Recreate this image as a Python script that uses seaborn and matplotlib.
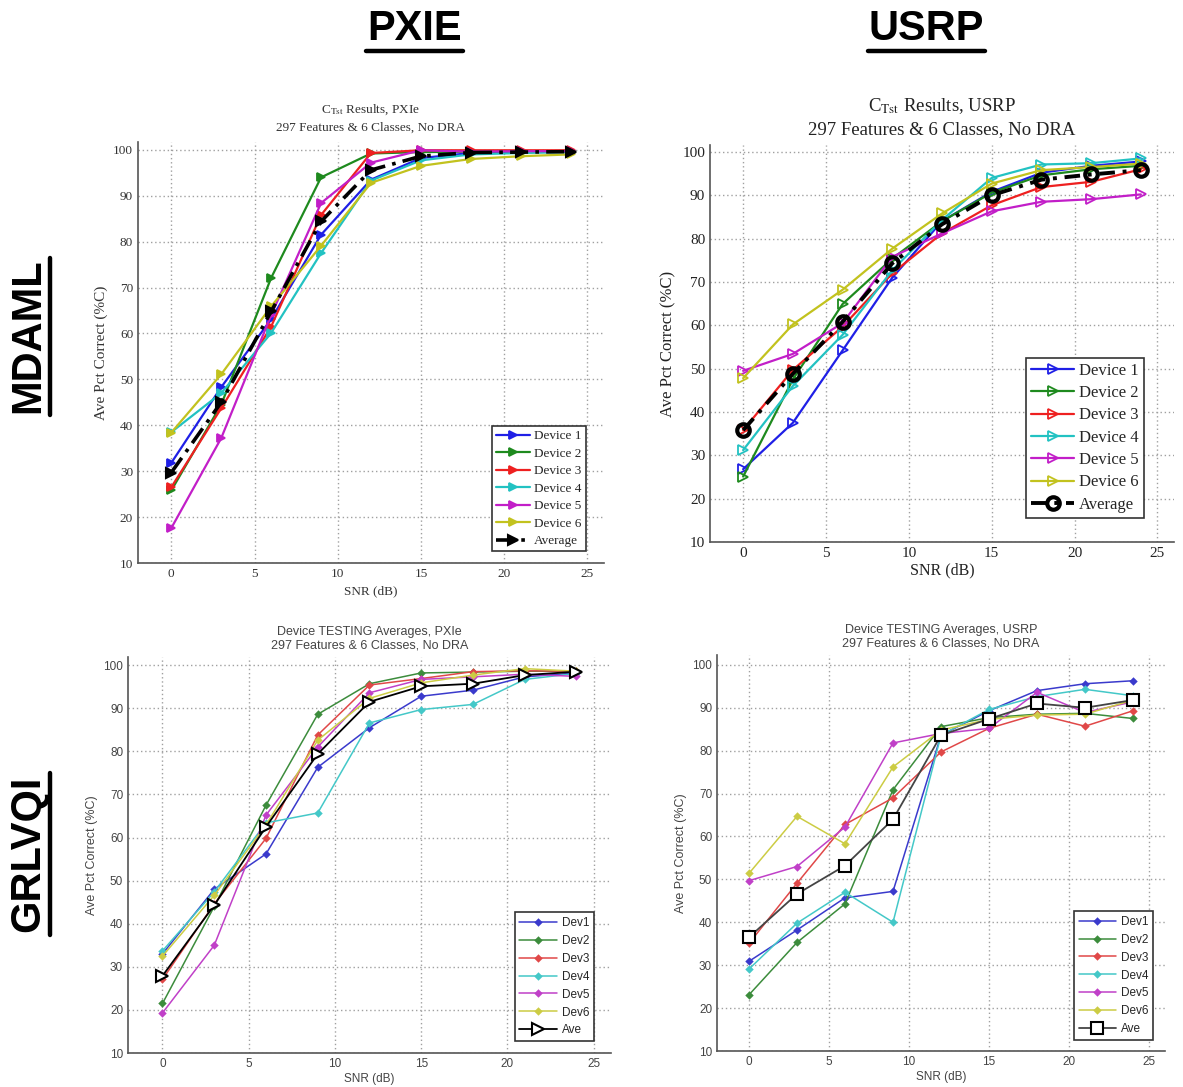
import numpy as np
import pandas as pd
import matplotlib
matplotlib.use("Agg")
import matplotlib.pyplot as plt
from matplotlib.lines import Line2D
import seaborn as sns

# SNR points (dB)
snr = [0, 3, 6, 9, 12, 15, 18, 21, 24]

# MDAML, PXIe
pxie_mdaml_dev1 = [31.8, 48.3, 63.1, 81.5, 93.5, 98.2, 99.3, 99.5, 99.6]
pxie_mdaml_dev2 = [25.8, 44.5, 72.1, 94.0, 99.2, 99.5, 99.6, 99.7, 99.7]
pxie_mdaml_dev3 = [26.5, 43.7, 61.5, 85.8, 99.3, 99.9, 99.9, 99.9, 99.9]
pxie_mdaml_dev4 = [38.5, 47.0, 60.1, 77.5, 93.3, 97.7, 99.0, 99.3, 99.5]
pxie_mdaml_dev5 = [17.6, 37.2, 64.0, 88.4, 97.2, 99.9, 99.6, 99.7, 99.7]
pxie_mdaml_dev6 = [38.4, 51.1, 65.9, 79.1, 92.8, 96.5, 98.0, 98.6, 99.0]
pxie_mdaml_avg = [29.7, 45.0, 64.8, 84.4, 95.6, 98.6, 99.4, 99.5, 99.6]

# MDAML, USRP
usrp_mdaml_dev1 = [26.8, 37.5, 54.2, 71.0, 84.0, 90.8, 95.2, 96.8, 97.8]
usrp_mdaml_dev2 = [25.1, 47.5, 64.9, 75.4, 84.0, 90.6, 94.6, 96.0, 96.8]
usrp_mdaml_dev3 = [35.8, 49.7, 59.7, 72.0, 81.2, 87.7, 91.9, 93.1, 96.0]
usrp_mdaml_dev4 = [31.2, 46.0, 57.8, 72.7, 84.3, 94.0, 97.1, 97.4, 98.5]
usrp_mdaml_dev5 = [49.5, 53.4, 60.5, 75.8, 81.2, 86.3, 88.5, 89.1, 90.2]
usrp_mdaml_dev6 = [47.8, 60.2, 68.2, 77.7, 85.8, 92.7, 95.8, 96.5, 97.3]
usrp_mdaml_avg = [35.8, 48.8, 60.8, 74.3, 83.3, 90.0, 93.6, 94.8, 95.8]

# GRLVQI, PXIe
pxie_grlvqi_dev1 = [33.0, 48.0, 56.2, 76.3, 85.5, 92.8, 94.2, 97.3, 98.2]
pxie_grlvqi_dev2 = [21.5, 44.0, 67.5, 88.6, 95.7, 98.2, 98.4, 98.6, 98.6]
pxie_grlvqi_dev3 = [27.1, 44.6, 59.8, 83.8, 95.4, 96.9, 98.5, 98.7, 98.6]
pxie_grlvqi_dev4 = [33.7, 47.4, 63.4, 65.7, 86.6, 89.7, 90.9, 96.7, 98.1]
pxie_grlvqi_dev5 = [19.3, 35.0, 65.2, 81.0, 93.6, 96.7, 97.3, 97.9, 97.4]
pxie_grlvqi_dev6 = [32.5, 46.6, 62.9, 82.6, 92.3, 95.9, 97.7, 99.2, 98.6]
pxie_grlvqi_avg = [27.9, 44.3, 62.5, 79.4, 91.5, 95.1, 95.7, 97.7, 98.5]

# GRLVQI, USRP
usrp_grlvqi_dev1 = [30.9, 38.2, 45.7, 47.2, 83.6, 89.3, 94.0, 95.6, 96.3]
usrp_grlvqi_dev2 = [23.1, 35.3, 44.3, 70.9, 85.6, 87.7, 88.5, 88.7, 87.5]
usrp_grlvqi_dev3 = [35.1, 49.1, 62.8, 69.0, 79.7, 85.2, 88.5, 85.7, 89.3]
usrp_grlvqi_dev4 = [29.1, 39.8, 47.0, 40.0, 83.6, 89.6, 92.6, 94.3, 92.8]
usrp_grlvqi_dev5 = [49.7, 53.0, 62.2, 81.8, 84.0, 85.2, 93.6, 88.9, 91.4]
usrp_grlvqi_dev6 = [51.4, 64.7, 58.3, 76.2, 84.8, 87.3, 88.3, 88.5, 91.8]
usrp_grlvqi_avg = [36.5, 46.6, 53.2, 64.0, 83.6, 87.4, 91.0, 90.0, 91.8]

top_labels = ["Device 1", "Device 2", "Device 3", "Device 4", "Device 5", "Device 6", "Average"]
bottom_labels = ["Dev1", "Dev2", "Dev3", "Dev4", "Dev5", "Dev6", "Ave"]

sns.set_theme(style="white")
plt.rcParams["mathtext.fontset"] = "stix"

top_colors = ["#1f1fe6", "#1e8a1e", "#ee2020", "#22c2c2", "#c21ec8", "#c2c21e"]
bot_colors = ["#3a3acc", "#3c8c3c", "#e04848", "#44c8c8", "#c040c8", "#cccc44"]

fig = plt.figure(figsize=(11.83, 10.87), dpi=100)
W, H = 1183.0, 1087.0


def px_axes(left, top, right, bottom):
    return fig.add_axes([left / W, 1 - bottom / H, (right - left) / W, (bottom - top) / H])


def style_axes(ax, ylim_top, family, fs, color):
    ax.set_xlim(-2, 26)
    ax.set_ylim(10, ylim_top)
    ax.set_xticks([0, 5, 10, 15, 20, 25])
    ax.set_yticks(range(10, 101, 10))
    ax.grid(True, linestyle=(0, (1, 2)), color="#a0a0a0", linewidth=1.0)
    for s in ["top", "right"]:
        ax.spines[s].set_visible(False)
    for s in ["left", "bottom"]:
        ax.spines[s].set_color("#555555")
        ax.spines[s].set_linewidth(1.2)
    ax.tick_params(direction="in", length=3, labelsize=fs, colors=color,
                   labelcolor=color)
    for lab in ax.get_xticklabels() + ax.get_yticklabels():
        lab.set_family(family)


def draw_panel(ax, series, labels, colors, dev_marker, dev_ms, avg_marker, avg_ms,
               avg_ls, avg_mfc, lw, avg_lw, dev_mfc_none=False):
    for vals, lab, col in zip(series[:6], labels[:6], colors):
        sns.lineplot(x=snr, y=vals, ax=ax, color=col, marker=dev_marker,
                     markersize=dev_ms, linewidth=lw, markeredgecolor=col,
                     markerfacecolor=("none" if dev_mfc_none else col),
                     markeredgewidth=1.3, label=lab, legend=False)
    sns.lineplot(x=snr, y=series[6], ax=ax, color="black", marker=avg_marker,
                 markersize=avg_ms, linewidth=avg_lw, markeredgecolor="black",
                 markerfacecolor=avg_mfc, markeredgewidth=1.5,
                 label=labels[6], legend=False)
    ax.lines[-1].set_linestyle(avg_ls)


serif = ["Liberation Serif", "DejaVu Serif"]
sans = ["Liberation Sans", "DejaVu Sans"]

# ---- top-left: MDAML PXIe
ax1 = px_axes(138, 142, 604, 563)
draw_panel(ax1, [pxie_mdaml_dev1, pxie_mdaml_dev2, pxie_mdaml_dev3, pxie_mdaml_dev4,
                 pxie_mdaml_dev5, pxie_mdaml_dev6, pxie_mdaml_avg],
           top_labels, top_colors, ">", 6, ">", 7, (0, (5, 2, 1, 2)), "black", 1.6, 2.6)
style_axes(ax1, 101.7, serif, 9.5, "#333333")
ax1.set_title("C$_{\\mathrm{Tst}}$ Results, PXIe\n297 Features & 6 Classes, No DRA",
              fontsize=9.5, family=serif, color="#333333", pad=8, linespacing=1.5)
ax1.set_xlabel("SNR (dB)", fontsize=9.5, family=serif, color="#333333", labelpad=4)
ax1.set_ylabel("Ave Pct Correct (%C)", fontsize=11, family=serif, color="#333333")
leg = ax1.legend(loc="lower right", bbox_to_anchor=(0.975, 0.012), prop={"family": serif, "size": 9.5},
                 frameon=True, fancybox=False, edgecolor="#333333", framealpha=1,
                 handlelength=2.6, borderpad=0.3, labelspacing=0.4, handletextpad=0.3)
leg.get_frame().set_linewidth(1.2)

# ---- top-right: MDAML USRP
ax2 = px_axes(710, 145, 1174, 542)
draw_panel(ax2, [usrp_mdaml_dev1, usrp_mdaml_dev2, usrp_mdaml_dev3, usrp_mdaml_dev4,
                 usrp_mdaml_dev5, usrp_mdaml_dev6, usrp_mdaml_avg],
           top_labels, top_colors, ">", 7, "o", 9, (0, (4, 2, 1, 2)), "none", 1.6, 2.8,
           dev_mfc_none=True)
ax2.lines[-1].set_markeredgewidth(3)
style_axes(ax2, 101.6, serif, 11, "#222222")
ax2.set_title("C$_{\\mathrm{Tst}}$ Results, USRP\n297 Features & 6 Classes, No DRA",
              fontsize=13.5, family=serif, color="#222222", pad=8, linespacing=1.4)
ax2.set_xlabel("SNR (dB)", fontsize=11.5, family=serif, color="#222222", labelpad=2)
ax2.set_ylabel("Ave Pct Correct (%C)", fontsize=12, family=serif, color="#222222")
leg = ax2.legend(loc="lower right", bbox_to_anchor=(0.953, 0.04), prop={"family": serif, "size": 12},
                 frameon=True, fancybox=False, edgecolor="#333333", framealpha=1,
                 handlelength=2.6, borderpad=0.3, labelspacing=0.38, handletextpad=0.3)
leg.get_frame().set_linewidth(1.2)

# ---- bottom-left: GRLVQI PXIe
ax3 = px_axes(128, 657, 611, 1053)
draw_panel(ax3, [pxie_grlvqi_dev1, pxie_grlvqi_dev2, pxie_grlvqi_dev3, pxie_grlvqi_dev4,
                 pxie_grlvqi_dev5, pxie_grlvqi_dev6, pxie_grlvqi_avg],
           bottom_labels, bot_colors, "D", 3, ">", 8, "-", "white", 1.1, 1.3)
style_axes(ax3, 101.9, sans, 8.5, "#444444")
ax3.set_title("Device TESTING Averages, PXIe\n297 Features & 6 Classes, No DRA",
              fontsize=9, family=sans, color="#444444", pad=6)
ax3.set_xlabel("SNR (dB)", fontsize=8.5, family=sans, color="#444444", labelpad=2)
ax3.set_ylabel("Ave Pct Correct (%C)", fontsize=9, family=sans, color="#444444")
leg = ax3.legend(loc="lower right", bbox_to_anchor=(0.977, 0.015), prop={"family": sans, "size": 8.5},
                 frameon=True, fancybox=False, edgecolor="#333333", framealpha=1,
                 handlelength=3.2, borderpad=0.4, labelspacing=0.5, handletextpad=0.4)
leg.get_frame().set_linewidth(1.2)

# ---- bottom-right: GRLVQI USRP
ax4 = px_axes(717, 655, 1165, 1051)
draw_panel(ax4, [usrp_grlvqi_dev1, usrp_grlvqi_dev2, usrp_grlvqi_dev3, usrp_grlvqi_dev4,
                 usrp_grlvqi_dev5, usrp_grlvqi_dev6, usrp_grlvqi_avg],
           bottom_labels, bot_colors, "D", 3, "s", 8, "-", "white", 1.1, 1.3)
ax4.lines[-1].set_color("#444444")
style_axes(ax4, 102.3, sans, 8.5, "#444444")
ax4.set_title("Device TESTING Averages, USRP\n297 Features & 6 Classes, No DRA",
              fontsize=9, family=sans, color="#444444", pad=6)
ax4.set_xlabel("SNR (dB)", fontsize=8.5, family=sans, color="#444444", labelpad=2)
ax4.set_ylabel("Ave Pct Correct (%C)", fontsize=9, family=sans, color="#444444")
leg = ax4.legend(loc="lower right", bbox_to_anchor=(0.987, 0.013), prop={"family": sans, "size": 8.5},
                 frameon=True, fancybox=False, edgecolor="#333333", framealpha=1,
                 handlelength=3.2, borderpad=0.4, labelspacing=0.5, handletextpad=0.4)
leg.get_frame().set_linewidth(1.2)

# ---- column and row headers (bold, underlined)
head = dict(fontsize=30, fontweight="bold", family=sans, color="black")
fig.text(415 / W, 1 - 29 / H, "PXIE", ha="center", va="center", **head)
fig.text(926 / W, 1 - 29 / H, "USRP", ha="center", va="center", **head)
fig.text(28 / W, 1 - 336 / H, "MDAML", ha="center", va="center", rotation=90, **head)
fig.text(28 / W, 1 - 854 / H, "GRLVQI", ha="center", va="center", rotation=90, **head)


def underline(x0, y0, x1, y1):
    fig.add_artist(Line2D([x0 / W, x1 / W], [1 - y0 / H, 1 - y1 / H],
                          transform=fig.transFigure, color="black", linewidth=3.2))


underline(366, 51, 463, 51)
underline(868, 51, 985, 51)
underline(50, 258, 50, 415)
underline(50, 773, 50, 935)

fig.savefig("out.png", dpi=100, facecolor="white")
